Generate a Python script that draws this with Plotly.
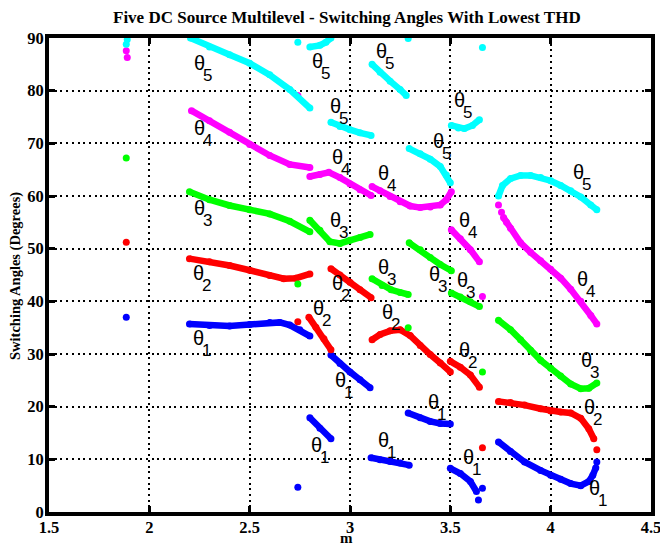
import plotly.graph_objects as go

# ---------------- data (m, switching angle in degrees) ----------------
# each theta: list of segments; single-point segments are isolated dots
theta1_x = [
    [1.885],
    [2.2, 2.3, 2.4, 2.5, 2.6, 2.65, 2.7, 2.75, 2.8],
    [2.74],
    [2.8, 2.85, 2.905],
    [2.905, 2.95, 3.0, 3.05, 3.1],
    [3.105, 3.15, 3.2, 3.25, 3.295],
    [3.29, 3.35, 3.4, 3.45, 3.5],
    [3.5, 3.55, 3.6, 3.63],
    [3.64], [3.66],
    [3.74, 3.8, 3.87, 3.95, 4.0, 4.05, 4.1, 4.15, 4.19, 4.21, 4.225],
    [4.23],
]
theta1_y = [
    [37.0],
    [35.7, 35.4, 35.3, 35.6, 36.0, 36.0, 35.5, 34.6, 33.4],
    [4.7],
    [17.9, 15.9, 13.9],
    [29.8, 28.2, 26.6, 25.1, 23.6],
    [10.3, 9.9, 9.6, 9.3, 8.9],
    [18.8, 17.9, 17.2, 16.8, 16.7],
    [8.3, 7.3, 5.8, 3.9],
    [2.3], [4.5],
    [13.3, 11.5, 9.5, 7.9, 7.0, 6.2, 5.4, 5.0, 5.8, 7.0, 8.4],
    [9.5],
]

theta2_x = [
    [1.885],
    [2.2, 2.3, 2.4, 2.5, 2.6, 2.67, 2.73, 2.8],
    [2.905, 2.95, 3.0, 3.05, 3.105],
    [2.74],
    [2.795, 2.83, 2.87, 2.905],
    [3.11, 3.15, 3.2, 3.25, 3.3, 3.35, 3.4, 3.45, 3.5],
    [3.5, 3.55, 3.6, 3.645],
    [3.66],
    [3.74, 3.8, 3.87, 3.95, 4.0, 4.05, 4.1, 4.15, 4.19, 4.215],
    [4.23],
]
theta2_y = [
    [51.2],
    [48.1, 47.5, 46.8, 45.9, 44.9, 44.3, 44.4, 45.2],
    [46.2, 45.0, 43.6, 42.2, 40.7],
    [36.1],
    [37.0, 35.1, 32.9, 30.8],
    [32.7, 33.7, 34.4, 34.6, 33.5, 31.6, 29.9, 28.3, 26.6],
    [28.6, 27.5, 26.0, 23.7],
    [12.2],
    [21.0, 20.8, 20.3, 19.6, 19.2, 19.0, 18.8, 17.8, 15.8, 13.9],
    [11.8],
]

theta3_x = [
    [1.885],
    [2.2, 2.3, 2.4, 2.5, 2.6, 2.7, 2.8],
    [2.74],
    [2.8, 2.85, 2.9, 2.95, 3.0, 3.05, 3.1],
    [3.11, 3.16, 3.205, 3.25, 3.29],
    [3.29],
    [3.295, 3.35, 3.4, 3.45, 3.505],
    [3.505, 3.55, 3.6, 3.645],
    [3.66],
    [3.74, 3.8, 3.85, 3.9, 3.95, 4.0, 4.05, 4.1, 4.15, 4.19, 4.23],
]
theta3_y = [
    [67.2],
    [60.8, 59.3, 58.2, 57.4, 56.6, 55.2, 53.2],
    [43.3],
    [55.4, 53.5, 51.3, 51.0, 51.6, 52.1, 52.7],
    [44.3, 43.0, 42.2, 41.7, 41.3],
    [35.0],
    [51.1, 49.8, 48.3, 47.0, 45.8],
    [41.6, 40.8, 39.9, 39.0],
    [26.6],
    [36.4, 34.6, 32.7, 30.7, 28.8, 27.3, 25.8, 24.3, 23.4, 23.5, 24.5],
]

theta4_x = [
    [1.885], [1.89],
    [2.21, 2.3, 2.4, 2.5, 2.6, 2.7, 2.8],
    [2.74],
    [2.8, 2.85, 2.895, 2.95, 3.0, 3.05, 3.105],
    [3.11, 3.15, 3.2, 3.25, 3.3, 3.35, 3.4, 3.45, 3.48, 3.505],
    [3.505, 3.55, 3.6, 3.645],
    [3.66],
    [3.74], [3.755],
    [3.765, 3.78, 3.8, 3.85, 3.9, 3.95, 4.0, 4.05, 4.1, 4.15, 4.2, 4.23],
]
theta4_y = [
    [87.6], [86.3],
    [76.2, 74.3, 72.1, 69.8, 67.7, 66.0, 65.4],
    [79.1],
    [63.7, 64.1, 64.5, 63.5, 62.3, 61.2, 60.1],
    [61.8, 61.0, 59.9, 58.9, 58.1, 57.8, 57.9, 58.3, 59.3, 60.8],
    [53.6, 51.9, 49.8, 47.5],
    [40.9],
    [58.3], [56.9],
    [55.9, 55.0, 53.9, 51.1, 49.3, 47.7, 46.1, 44.4, 42.3, 40.0, 37.3, 35.7],
]

theta5_x = [
    [1.89], [1.885],
    [2.205, 2.3, 2.4, 2.5, 2.6, 2.7, 2.8],
    [2.74],
    [2.8, 2.85, 2.88, 2.905],
    [2.905, 2.95, 3.0, 3.05, 3.105],
    [3.11, 3.15, 3.2, 3.25, 3.28],
    [3.29],
    [3.295, 3.35, 3.4, 3.45, 3.48, 3.5],
    [3.505, 3.54, 3.57, 3.61, 3.645],
    [3.66],
    [3.74, 3.76, 3.8, 3.85, 3.9, 3.95, 4.0, 4.05, 4.1, 4.15, 4.2, 4.23],
]
theta5_y = [
    [89.7], [88.8],
    [90.0, 88.3, 86.8, 85.2, 83.0, 80.2, 76.7],
    [89.2],
    [88.3, 88.6, 89.2, 90.0],
    [74.0, 73.2, 72.6, 72.0, 71.5],
    [85.0, 83.5, 81.8, 80.2, 79.1],
    [89.9],
    [69.0, 68.0, 67.0, 65.6, 64.0, 62.5],
    [73.4, 72.9, 72.8, 73.4, 74.5],
    [88.2],
    [60.0, 62.0, 63.3, 63.9, 63.9, 63.5, 62.9, 62.0, 61.0, 59.8, 58.3, 57.4],
]

series_colors = ["#0000FF", "#FF0000", "#00FF00", "#FF00FF", "#00FFFF"]
series_x = [theta1_x, theta2_x, theta3_x, theta4_x, theta5_x]
series_y = [theta1_y, theta2_y, theta3_y, theta4_y, theta5_y]

# curve labels: (m, angle, subscript index)
label_x = [2.25, 2.25, 2.25, 2.245, 2.245, 2.84, 2.93, 3.155, 3.44, 2.94, 3.165,
           3.545, 4.14, 2.93, 3.165, 3.42, 2.94, 2.845, 3.185, 3.57, 3.56, 4.16,
           3.57, 4.18, 4.195, 3.59, 4.22, 2.955, 2.835, 3.165, 3.415]
label_y = [85.2, 73.0, 57.8, 45.4, 33.1, 85.6, 77.0, 87.5, 70.5, 67.5, 64.4,
           78.3, 64.6, 55.5, 46.6, 45.2, 43.5, 38.8, 38.0, 55.5, 44.1, 44.3,
           30.8, 28.9, 20.0, 10.5, 4.6, 25.1, 12.7, 13.7, 20.9]
label_n = [5, 4, 3, 2, 1, 5, 5, 5, 5, 4, 4,
           5, 5, 3, 3, 3, 2, 2, 2, 4, 3, 4,
           2, 3, 2, 1, 1, 1, 1, 1, 1]

x_ticks = [1.5, 2, 2.5, 3, 3.5, 4, 4.5]
x_tick_text = ["1.5", "2", "2.5", "3", "3.5", "4", "4.5"]
y_ticks = [0, 10, 20, 30, 40, 50, 60, 70, 80, 90]

title_text = "Five DC Source Multilevel - Switching Angles With Lowest THD"
x_title = "m"
y_title = "Switching Angles (Degrees)"

# ---------------- figure ----------------
fig = go.Figure()
for segs_x, segs_y, col in zip(series_x, series_y, series_colors):
    xs, ys = [], []
    for sx, sy in zip(segs_x, segs_y):
        xs += list(sx) + [None]
        ys += list(sy) + [None]
    fig.add_trace(go.Scatter(
        x=xs, y=ys, mode="lines+markers",
        line=dict(color=col, width=6.5),
        marker=dict(color=col, size=7, line=dict(width=0)),
        showlegend=False, hoverinfo="skip", connectgaps=False,
    ))

serif = "Liberation Serif"
annotations = []
for lx, ly, n in zip(label_x, label_y, label_n):
    annotations.append(dict(x=lx, y=ly, xref="x", yref="y", text="θ",
                            showarrow=False, xanchor="center", yanchor="middle",
                            font=dict(family="Arial", size=20, color="black")))
    annotations.append(dict(x=lx, y=ly, xref="x", yref="y", text=str(n),
                            showarrow=False, xanchor="center", yanchor="middle",
                            xshift=8, yshift=-12.5,
                            font=dict(family="Arial", size=17, color="black")))

annotations.append(dict(x=0.495, y=1.0443, xref="paper", yref="paper",
                        text="<b>%s</b>" % title_text, showarrow=False,
                        xanchor="center", yanchor="middle",
                        font=dict(family=serif, size=17, color="black")))
annotations.append(dict(x=0.495, y=-0.0735, xref="paper", yref="paper",
                        text="<b>%s</b>" % x_title, showarrow=False,
                        xanchor="center", yanchor="bottom", borderpad=0,
                        font=dict(family=serif, size=15, color="black")))
annotations.append(dict(x=-0.0548, y=0.498, xref="paper", yref="paper",
                        text="<b>%s</b>" % y_title, showarrow=False, textangle=-90,
                        xanchor="center", yanchor="middle",
                        font=dict(family=serif, size=14.5, color="black")))

axis_common = dict(
    showline=True, linecolor="black", linewidth=4, mirror="ticks",
    ticks="inside", ticklen=6, tickwidth=3, tickcolor="black",
    showgrid=True, gridcolor="black", gridwidth=2, griddash="2px,3.7px",
    zeroline=False, automargin=False, ticklabeloverflow="allow",
    tickfont=dict(family=serif, size=16.5, color="black"),
)

fig.update_layout(
    width=660, height=548,
    margin=dict(l=49, r=9, t=38, b=36),
    paper_bgcolor="white", plot_bgcolor="white",
    xaxis=dict(range=[1.5, 4.5], tickvals=x_ticks,
               ticktext=["<b>%s</b>" % t for t in x_tick_text], ticklabelstandoff=-3,
               **axis_common),
    yaxis=dict(range=[0, 90], tickvals=y_ticks,
               ticktext=["<b>%d</b>" % t for t in y_ticks], ticklabelstandoff=-2,
               **axis_common),
    annotations=annotations,
)

# remove the default page margin so the 660x548 figure fills the window exactly
fig.write_html(
    "out.html",
    config={"displayModeBar": False},
    post_script="document.body.style.margin='0';document.body.style.overflow='hidden';",
)
